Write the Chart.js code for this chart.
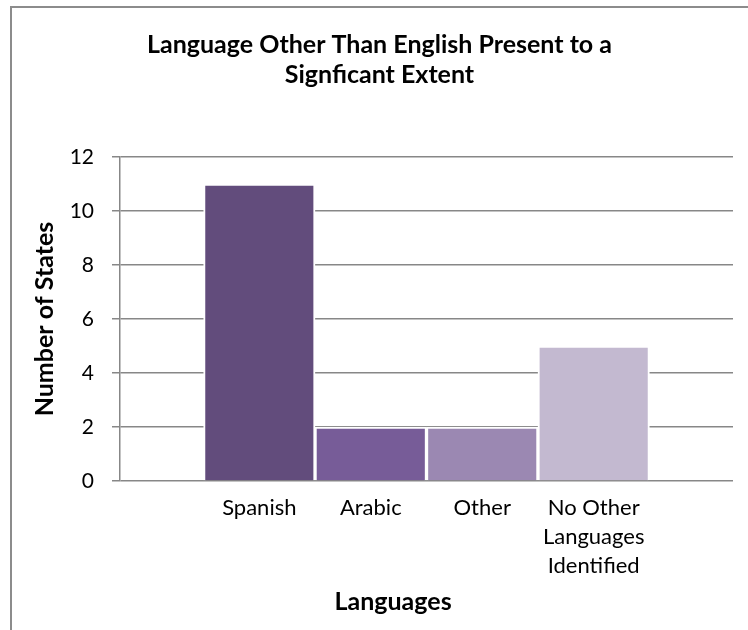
<!DOCTYPE html>
<html>
<head>
<meta charset="utf-8">
<script src="https://cdn.jsdelivr.net/npm/chart.js@4.4.1/dist/chart.umd.min.js"></script>
<style>
    html, body { margin: 0; padding: 0; background: #fff; overflow: hidden; }
    #frame { position: absolute; left: 10px; top: 6px; width: 800px; height: 700px; border: 2px solid #8c8c8c; }
    #wrap { position: absolute; left: 0; top: 0; width: 748px; height: 630px; }
</style>
</head>
<body>
<div id="frame"></div>
<div id="wrap"><canvas id="myChart"></canvas></div>
<script>
const languages = ['Spanish', 'Arabic', 'Other', ['No Other', 'Languages', 'Identified']];
const states = [11, 2, 2, 5];
const barColors = ['#624c7c', '#775c98', '#9b88b2', '#c3b9d0'];
const yTicks = [0, 2, 4, 6, 8, 10, 12];

const gridGray = '#878787';

const ctx = document.getElementById('myChart').getContext('2d');
const myChart = new Chart(ctx, {
    type: 'bar',
    data: {
        datasets: [{
            label: 'Number of States',
            data: states.map((v, i) => ({ x: i, y: v })),
            backgroundColor: barColors,
            borderColor: '#ffffff',
            borderWidth: 2,
            barPercentage: 1,
            categoryPercentage: 1,
        }]
    },
    options: {
        responsive: true,
        maintainAspectRatio: false,
        animation: false,
        layout: { padding: { left: 26, right: 15, top: 0, bottom: 0 } },
        plugins: {
            legend: { display: false },
            tooltip: { enabled: false },
            title: {
                display: true,
                text: ['Language Other Than English Present to a', 'Signficant Extent'],
                color: '#000',
                font: { family: 'Lato', size: 25, weight: 'bold', lineHeight: 1.2 },
                padding: { top: 30, bottom: 67 }
            }
        },
        scales: {
            x: {
                type: 'linear',
                offset: false,
                min: -1.25,
                max: 4.25,
                afterBuildTicks: scale => {
                    scale.ticks = languages.map((l, i) => ({ value: i }));
                },
                afterFit: scale => { scale.height = 149; },
                grid: { display: false, drawTicks: false },
                border: { display: false },
                ticks: {
                    padding: 12,
                    maxRotation: 0,
                    autoSkip: false,
                    color: '#000',
                    font: { family: 'Lato', size: 22, lineHeight: 1.32 },
                    callback: value => languages[value]
                },
                title: {
                    display: true,
                    text: 'Languages           ',
                    color: '#000',
                    font: { family: 'Lato', size: 25, weight: 'bold' },
                    padding: { top: 4, bottom: 13 }
                }
            },
            y: {
                min: 0,
                max: 12,
                afterBuildTicks: scale => {
                    scale.ticks = yTicks.map(v => ({ value: v }));
                },
                afterFit: scale => { scale.width = 94; },
                grid: { color: gridGray, lineWidth: 1.5, tickLength: 8 },
                border: { color: gridGray, width: 1.5 },
                ticks: {
                    padding: 18,
                    color: '#000',
                    font: { family: 'Lato', size: 21 }
                },
                title: {
                    display: true,
                    text: 'Number of States',
                    color: '#000',
                    font: { family: 'Lato', size: 25, weight: 'bold' },
                    padding: { top: 4, bottom: 4 }
                }
            }
        }
    }
});
</script>
</body>
</html>
